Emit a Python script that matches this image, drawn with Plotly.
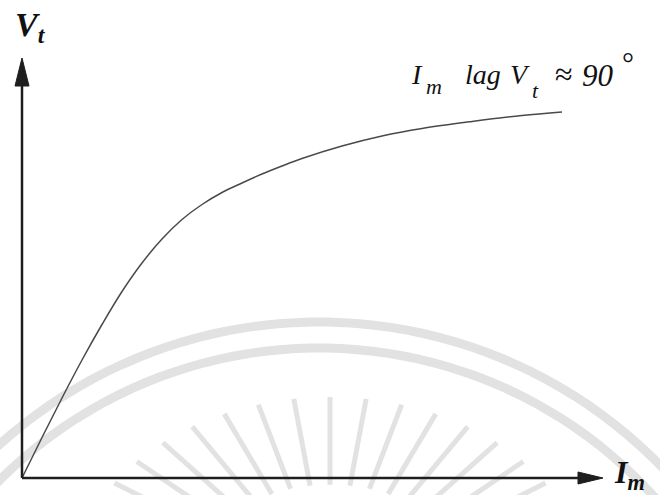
import numpy as np
import plotly.graph_objects as go

# Magnetising current vs terminal voltage (arbitrary units)
im_values = [0.0, 0.4, 0.8, 1.2, 1.6, 2.0, 2.4, 2.8, 3.2, 3.6, 4.0, 4.4,
             4.8, 5.2, 5.6, 6.4, 7.2, 8.0, 9.0, 10.0, 10.8]
vt_values = [0.0, 0.81, 1.60, 2.36, 3.07, 3.73, 4.30, 4.78, 5.17, 5.47, 5.71,
             5.90, 6.08, 6.24, 6.39, 6.64, 6.84, 6.99, 7.13, 7.25, 7.32]

W, H = 660, 495
OX, OY, SCALE = 22, 478, 50.0  # origin in pixels, pixels per unit


def X(px):
    return (px - OX) / SCALE


def Y(py):
    return (OY - py) / SCALE


fig = go.Figure()

shapes = []
# faint background emblem: two concentric arcs and a fan of rays
wm = "#e2e2e2"
for r in (478, 452):
    t = np.linspace(np.pi * 0.93, np.pi * 0.07, 80)
    xs = 319 + r * np.cos(t)
    ys = 800 - r * np.sin(t)
    path = "M " + " L ".join(f"{X(a):.4f},{Y(b):.4f}" for a, b in zip(xs, ys))
    shapes.append(dict(type="path", path=path, xref="x", yref="y",
                       line=dict(color=wm, width=9), layer="below"))
for ang in np.arange(18, 163, 8):
    a = np.radians(ang)
    x0, y0 = 330 + 0.55 * 260 * np.cos(a), 592 - 0.55 * 195 * np.sin(a)
    x1, y1 = 330 + 260 * np.cos(a), 592 - 195 * np.sin(a)
    shapes.append(dict(type="line", x0=X(x0), y0=Y(y0), x1=X(x1), y1=Y(y1),
                       xref="x", yref="y", line=dict(color=wm, width=5),
                       layer="below"))

# axes with arrowheads
ax_col = "#1e1e1e"
y_tip, x_tip = Y(58), X(603)
shapes.append(dict(type="line", x0=0, y0=0, x1=0, y1=Y(80), xref="x", yref="y",
                   line=dict(color=ax_col, width=2.5)))
shapes.append(dict(type="line", x0=0, y0=0, x1=X(585), y1=0, xref="x", yref="y",
                   line=dict(color=ax_col, width=2.5)))
shapes.append(dict(type="path", xref="x", yref="y",
                   path=f"M 0,{y_tip} L {-0.14},{Y(86)} L {0.14},{Y(86)} Z",
                   fillcolor=ax_col, line=dict(color=ax_col, width=1)))
shapes.append(dict(type="path", xref="x", yref="y",
                   path=f"M {x_tip},0 L {X(578)},{0.12} L {X(578)},{-0.12} Z",
                   fillcolor=ax_col, line=dict(color=ax_col, width=1)))

fig.add_trace(go.Scatter(x=im_values, y=vt_values, mode="lines",
                         line=dict(color="#4a4a4a", width=1.5, shape="spline",
                                   smoothing=1.0),
                         hoverinfo="skip", showlegend=False))

serif = "Liberation Serif"
ink = "#111"


def label(px, py, text, size, anchor="top"):
    return dict(x=X(px), y=Y(py), xanchor="left", yanchor=anchor, text=text,
                font=dict(family=serif, size=size, color=ink))


annotations = [
    label(13, 4, "<b><i>V<sub>t</sub></i></b>", 34),
    label(612, 452, "<b><i>I<sub>m</sub></i></b>", 32),
    # phase note: I_m lag V_t ≈ 90°
    label(409, 57, "<i>I</i>", 28),
    label(424, 72, "<i>m</i>", 22),
    label(463, 57, "<i>lag</i>", 28),
    label(508, 57, "<i>V</i>", 28),
    label(530, 76, "<i>t</i>", 22),
    label(553, 54, "≈", 32),
    label(580, 56, "<i>90</i>", 31),
    label(620, 44, "°", 30),
]
for a in annotations:
    a.update(xref="x", yref="y", showarrow=False)

fig.update_layout(
    width=W, height=H,
    margin=dict(l=0, r=0, t=0, b=0),
    paper_bgcolor="white", plot_bgcolor="white",
    xaxis=dict(range=[X(0), X(W)], visible=False, fixedrange=True),
    yaxis=dict(range=[Y(H), Y(0)], visible=False, fixedrange=True),
    shapes=shapes, annotations=annotations,
)

fig.write_html("out.html")
